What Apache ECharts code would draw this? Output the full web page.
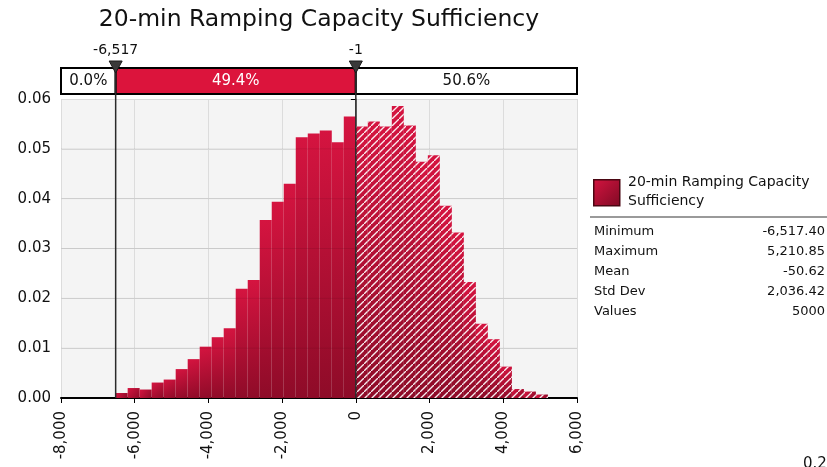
<!DOCTYPE html>
<html>
<head>
<meta charset="utf-8">
<script src="https://cdn.jsdelivr.net/npm/echarts@6/dist/echarts.min.js"></script>
<style>
html,body{margin:0;padding:0;background:#fff;}
#chart{width:827px;height:467px;}
</style>
</head>
<body>
<div id="chart"></div>
<script>
// ---------------- data ----------------
const titleText = '20-min Ramping Capacity Sufficiency';
const seriesName = '20-min Ramping Capacity Sufficiency';
const binMin = -6517.40;
const binMax = 5210.85;
// relative frequency of each of the 36 histogram bins (left to right)
const frequencies = [
  0.0010, 0.0020, 0.0017, 0.0031, 0.0037, 0.0058, 0.0078, 0.0103, 0.0122, 0.0140,
  0.0219, 0.0237, 0.0357, 0.0394, 0.0430, 0.0523, 0.0531, 0.0537, 0.0513, 0.0565,
  0.0545, 0.0555, 0.0545, 0.0586, 0.0547, 0.0474, 0.0487, 0.0386, 0.0332, 0.0233,
  0.0149, 0.0118, 0.0063, 0.0018, 0.0013, 0.0007
];
const delimiters = [-6517, -1];
const delimiterLabels = ['-6,517', '-1'];
const segmentLabels = ['0.0%', '49.4%', '50.6%'];
const xTicks = [-8000, -6000, -4000, -2000, 0, 2000, 4000, 6000];
const yTicks = [0, 0.01, 0.02, 0.03, 0.04, 0.05, 0.06];
const statNames = ['Minimum', 'Maximum', 'Mean', 'Std Dev', 'Values'];
const statValues = ['-6,517.40', '5,210.85', '-50.62', '2,036.42', '5000'];
const cornerText = '0.2';

// ---------------- derived structures ----------------
const binCount = frequencies.length;
const binWidth = (binMax - binMin) / binCount;
const barData = frequencies.map((f, i) => [binMin + i * binWidth, binMin + (i + 1) * binWidth, f]);
const xMin = xTicks[0], xMax = xTicks[xTicks.length - 1];
const segEdges = [xMin].concat(delimiters, [xMax]);
const segData = segmentLabels.map((t, i) => [segEdges[i], segEdges[i + 1], i]);
const delimData = delimiters.map((d, i) => [d, i]);
const gridLineData = yTicks.slice(1, -1).map(v => [v]);

const FONT = 'DejaVu Sans';
const RED = '#dc143c';

// hatch pattern
const HS = 7;
const hatch = document.createElement('canvas');
hatch.width = HS; hatch.height = HS;
(function () {
  const c = hatch.getContext('2d');
  c.strokeStyle = 'rgba(255,255,255,0.92)';
  c.lineWidth = 1.4;
  c.beginPath();
  c.moveTo(-1, HS + 1); c.lineTo(HS + 1, -1);
  c.moveTo(-HS - 1, 1); c.lineTo(1, -HS - 1);
  c.moveTo(HS - 1, 2 * HS + 1); c.lineTo(2 * HS + 1, HS - 1);
  c.stroke();
})();

function barGradient() {
  return new echarts.graphic.LinearGradient(0, 0, 1, 1, [
    { offset: 0, color: '#d51440' },
    { offset: 1, color: '#8e0b28' }
  ]);
}

const chart = echarts.init(document.getElementById('chart'), null, { renderer: 'canvas' });

const stats = [];
statNames.forEach((n, i) => {
  stats.push({ type: 'text', left: 594, top: 225 + i * 20, style: { text: n, font: '13px ' + FONT, fill: '#111' } });
  stats.push({ type: 'text', right: 2, top: 225 + i * 20, style: { text: statValues[i], font: '13px ' + FONT, fill: '#111', textAlign: 'right' } });
});

chart.setOption({
  animation: false,
  backgroundColor: '#ffffff',
  title: {
    text: titleText,
    left: 314, top: 3, textAlign: 'center',
    textStyle: { fontFamily: FONT, fontSize: 23.5, fontWeight: 'normal', color: '#111' }
  },
  grid: {
    left: 61, right: 250, top: 99, bottom: 69,
    show: true, backgroundColor: '#f4f4f4', borderWidth: 0
  },
  xAxis: {
    type: 'value', min: xMin, max: xMax, interval: 2000,
    axisLine: { show: true, onZero: false, lineStyle: { color: '#000', width: 2 } },
    axisTick: { show: true, length: 5, lineStyle: { color: '#000' } },
    splitLine: { show: true, lineStyle: { color: '#dcdcdc', width: 1 } },
    axisLabel: {
      rotate: 90, margin: 13, fontFamily: FONT, fontSize: 15, color: '#111',
      formatter: v => v.toLocaleString('en-US')
    }
  },
  yAxis: {
    type: 'value', min: 0, max: 0.06, interval: 0.01,
    axisLine: { show: true, lineStyle: { color: '#999', width: 1 } },
    axisTick: { show: true, length: 5, lineStyle: { color: '#000' } },
    splitLine: { show: true, lineStyle: { color: '#dcdcdc', width: 1 } },
    axisLabel: { margin: 10, fontFamily: FONT, fontSize: 15, color: '#111', formatter: v => v.toFixed(2) }
  },
  graphic: [
    {
      type: 'rect', left: 593, top: 179,
      shape: { width: 26, height: 26 },
      style: {
        fill: new echarts.graphic.LinearGradient(0, 0, 1, 1, [
          { offset: 0, color: '#d51440' }, { offset: 1, color: '#7e0a24' }
        ]),
        stroke: '#4a0612', lineWidth: 1.5
      }
    },
    { type: 'text', left: 628, top: 173, style: { text: '20-min Ramping Capacity\nSufficiency', font: '14px ' + FONT, fill: '#111', lineHeight: 19 } },
    { type: 'rect', left: 590, top: 216, shape: { width: 237, height: 2 }, style: { fill: '#9a9a9a' } },
    { type: 'text', left: 803, top: 457, style: { text: cornerText, font: '15px ' + FONT, fill: '#111' } }
  ].concat(stats),
  series: [
    {
      name: seriesName,
      type: 'custom',
      coordinateSystem: 'cartesian2d',
      encode: { x: [0, 1], y: 2 },
      data: barData,
      z: 2,
      renderItem: function (params, api) {
        const x0 = api.value(0), x1 = api.value(1), y = api.value(2);
        const p0 = api.coord([x0, y]);
        const p1 = api.coord([x1, 0]);
        const shape = { x: p0[0], y: p0[1], width: p1[0] - p0[0], height: p1[1] - p0[1] };
        const children = [{ type: 'rect', shape: shape, style: { fill: barGradient() } }];
        if ((x0 + x1) / 2 > delimiters[1]) {
          children.push({ type: 'rect', shape: shape, style: { fill: { image: hatch, repeat: 'repeat' } } });
        }
        return { type: 'group', children: children };
      }
    },
    {
      type: 'custom',
      coordinateSystem: 'cartesian2d',
      encode: { y: 0 },
      data: gridLineData,
      z: 3,
      silent: true,
      renderItem: function (params, api) {
        const a = api.coord([xMin, api.value(0)]);
        const b = api.coord([xMax, api.value(0)]);
        return { type: 'line', shape: { x1: a[0], y1: a[1], x2: b[0], y2: b[1] }, style: { stroke: 'rgba(0,0,0,0.08)', lineWidth: 1 } };
      }
    },
    {
      type: 'custom',
      coordinateSystem: 'cartesian2d',
      encode: { x: [0, 1] },
      data: segData,
      z: 4,
      silent: true,
      renderItem: function (params, api) {
        const a = api.coord([api.value(0), 0]);
        const b = api.coord([api.value(1), 0]);
        const idx = api.value(2);
        const filled = idx === 1;
        return {
          type: 'group',
          children: [
            { type: 'rect', shape: { x: a[0], y: 68, width: b[0] - a[0], height: 26 },
              style: { fill: filled ? RED : '#ffffff', stroke: '#000', lineWidth: 2 } },
            { type: 'text', x: (a[0] + b[0]) / 2, y: 81,
              style: { text: segmentLabels[idx], font: '15px ' + FONT, fill: filled ? '#ffffff' : '#111', align: 'center', verticalAlign: 'middle' } }
          ]
        };
      }
    },
    {
      type: 'custom',
      coordinateSystem: 'cartesian2d',
      encode: { x: 0 },
      data: delimData,
      z: 5,
      silent: true,
      renderItem: function (params, api) {
        const p = api.coord([api.value(0), 0]);
        const x = p[0];
        const i = api.value(1);
        return {
          type: 'group',
          children: [
            { type: 'line', shape: { x1: x, y1: 62, x2: x, y2: p[1] }, style: { stroke: '#2a2a2a', lineWidth: 1.5 } },
            { type: 'polygon', shape: { points: [[x - 6.5, 61], [x + 6.5, 61], [x, 73]] }, style: { fill: '#3a3a3a', stroke: '#1a1a1a', lineWidth: 1 } },
            { type: 'text', x: x, y: 50, style: { text: delimiterLabels[i], font: '14px ' + FONT, fill: '#111', align: 'center', verticalAlign: 'middle' } }
          ]
        };
      }
    }
  ]
});
</script>
</body>
</html>
